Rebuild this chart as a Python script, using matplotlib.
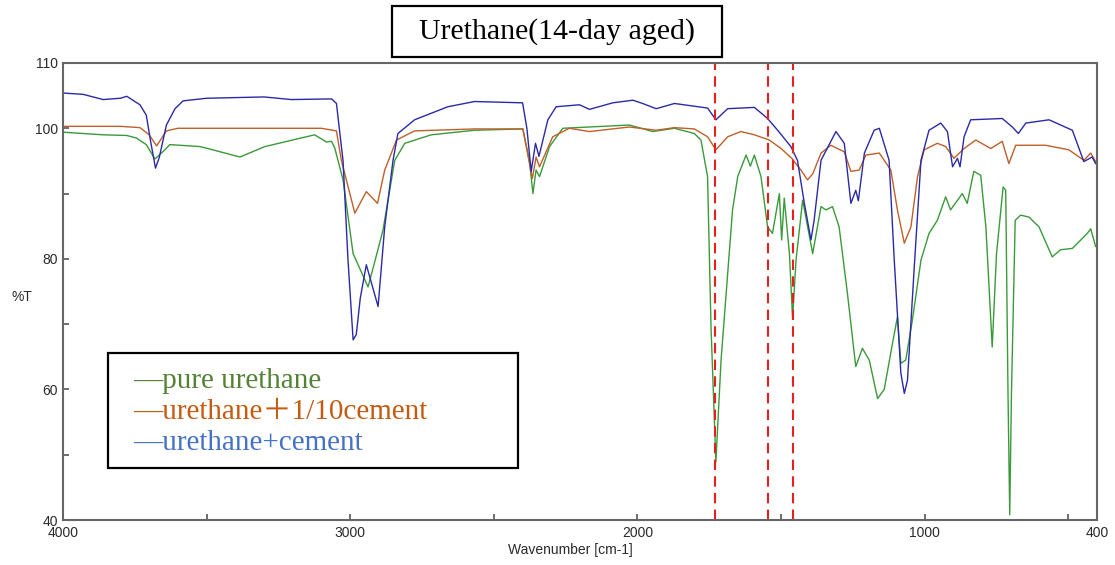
import matplotlib
matplotlib.use("Agg")
import matplotlib.pyplot as plt
from matplotlib.patches import Rectangle

# pure urethane (green)
wn_pure = [4000, 3860, 3778, 3744, 3710, 3680, 3650, 3628, 3523, 3470, 3384, 3297,
           3124, 3083, 3065, 3054, 3025, 2990, 2938, 2915, 2886, 2845, 2810, 2718, 2567,
           2399, 2376, 2364, 2353, 2341, 2306, 2260, 2028, 1947, 1871, 1802, 1779, 1756,
           1744, 1727, 1709, 1669, 1651, 1622, 1607, 1593, 1570, 1547, 1530, 1506, 1498,
           1489, 1471, 1460, 1448, 1425, 1390, 1361, 1344, 1321, 1298, 1269, 1240, 1217,
           1193, 1164, 1141, 1112, 1095, 1083, 1066, 1043, 1013, 985, 956, 927, 910, 869,
           852, 829, 805, 787, 765, 750, 727, 718, 710, 704, 698, 685, 666, 637, 602, 556,
           527, 486, 434, 422, 405]
t_pure = [99.4, 99.0, 98.9, 98.5, 97.5, 95.3, 96.5, 97.5, 97.2, 96.6, 95.6, 97.2,
          99.0, 97.9, 98.0, 97.0, 92.1, 80.8, 75.7, 79.5, 84.4, 95.1, 97.7, 99.0, 99.7,
          99.9, 95.0, 90.0, 93.6, 92.6, 97.2, 100.0, 100.5, 99.5, 100.0, 99.2, 98.2, 92.6,
          69.6, 48.9, 64.5, 87.5, 92.6, 95.9, 94.2, 95.9, 92.6, 84.9, 83.9, 90.0, 82.9,
          89.3, 80.8, 70.9, 79.8, 89.0, 80.8, 88.0, 87.5, 88.0, 84.9, 74.7, 63.5, 66.3,
          64.5, 58.6, 60.0, 67.1, 71.1, 64.0, 64.5, 70.6, 79.8, 83.9, 85.9, 89.5, 87.5, 90.0,
          88.5, 93.4, 92.8, 84.9, 66.5, 80.8, 91.0, 90.5, 59.4, 40.8, 59.4, 85.9, 86.7, 86.4,
          84.9, 80.3, 81.4, 81.6, 83.9, 84.6, 81.9]

# urethane + 1/10 cement (orange)
wn_tenth = [4000, 3800, 3732, 3700, 3674, 3640, 3600, 3300, 3100, 3048, 3031, 2984,
            2944, 2905, 2880, 2839, 2776, 2567, 2399, 2366, 2353, 2341, 2295, 2237, 2167,
            2028, 1935, 1871, 1802, 1756, 1727, 1686, 1640, 1593, 1541, 1500, 1463, 1431,
            1408, 1390, 1361, 1327, 1280, 1257, 1228, 1205, 1158, 1118, 1095, 1071, 1048,
            1025, 1002, 956, 927, 898, 863, 822, 770, 730, 707, 683, 579, 498, 446, 422, 405]
t_tenth = [100.3, 100.3, 100.1, 99.0, 97.3, 99.6, 100.0, 100.0, 100.0, 99.6, 95.1, 87.0,
           90.3, 88.5, 93.6, 98.2, 99.6, 99.9, 99.9, 92.3, 95.6, 94.1, 98.7, 100.0, 99.5,
           100.2, 99.7, 100.1, 99.9, 98.7, 96.7, 98.7, 99.5, 99.0, 98.2, 96.9, 95.4, 93.6,
           92.1, 93.0, 96.2, 97.4, 96.4, 93.4, 93.6, 95.9, 96.2, 93.6, 87.5, 82.4, 84.9,
           92.6, 96.7, 97.7, 97.2, 95.4, 96.9, 98.2, 96.9, 98.0, 94.6, 97.4, 97.4, 96.7,
           95.1, 96.2, 94.9]

# urethane + cement (blue)
wn_cement = [4000, 3930, 3860, 3800, 3778, 3732, 3710, 3695, 3678, 3665, 3640, 3610,
             3582, 3500, 3400, 3300, 3205, 3065, 3048, 3025, 3008, 2990, 2979, 2965, 2944,
             2903, 2880, 2851, 2834, 2776, 2660, 2567, 2400, 2385, 2370, 2355, 2343, 2312,
             2283, 2202, 2167, 2086, 2016, 1982, 1935, 1871, 1756, 1727, 1686, 1593, 1547,
             1512, 1466, 1443, 1419, 1396, 1385, 1361, 1309, 1280, 1257, 1240, 1231, 1210,
             1176, 1158, 1124, 1106, 1083, 1071, 1060, 1037, 1013, 985, 944, 921, 903, 886,
             877, 863, 840, 730, 695, 674, 648, 567, 486, 446, 417, 405]
t_cement = [105.4, 105.2, 104.4, 104.6, 104.9, 103.6, 102.0, 98.0, 93.9, 95.5, 100.5, 103.0,
            104.2, 104.6, 104.7, 104.8, 104.4, 104.5, 103.8, 95.0, 80.0, 67.6, 68.4, 74.0, 79.1,
            72.7, 84.9, 95.1, 99.2, 101.3, 103.3, 104.1, 103.9, 100.0, 93.4, 97.7, 95.7, 101.3,
            103.3, 103.6, 102.9, 103.9, 104.3, 103.8, 103.0, 103.8, 103.1, 101.3, 103.0, 103.2, 101.5,
            99.7, 97.2, 95.1, 88.5, 82.9, 85.9, 95.1, 99.5, 97.7, 88.5, 90.5, 88.9, 96.2,
            99.7, 100.0, 95.1, 79.8, 62.5, 59.4, 61.4, 78.3, 95.1, 99.7, 100.8, 99.5, 94.1, 95.4,
            94.1, 98.7, 101.3, 101.5, 100.2, 99.2, 100.8, 101.3, 99.7, 94.9, 95.6, 94.6]

marker_lines = [1730, 1545, 1460]

legend_labels = ["\u2014pure urethane", "\u2014urethane\uff0b1/10cement", "\u2014urethane+cement"]
legend_colors = ["#548235", "#C55A11", "#4472C4"]

fig = plt.figure(figsize=(11.15, 5.65), dpi=100)
ax = fig.add_axes([0.0565, 0.0796, 0.9274, 0.8089])

ax.plot(wn_pure, t_pure, color="#3a9a3a", lw=1.0)
ax.plot(wn_tenth, t_tenth, color="#bf5f2a", lw=1.0)
ax.plot(wn_cement, t_cement, color="#2a2aa8", lw=1.0)

for w in marker_lines:
    ax.axvline(w, color="#e8201c", lw=1.5, ls=(0, (5, 3)), clip_on=False)

ax.set_xlim(4000, 400)
ax.set_ylim(40, 110)
ax.set_xticks([4000, 3000, 2000, 1000, 400])
ax.set_xticks([3500, 2500, 1500, 500], minor=True)
ax.set_yticks([40, 50, 60, 70, 80, 90, 100, 110])
ax.set_yticklabels(["40", "", "60", "", "80", "", "100", "110"])
ax.tick_params(axis="both", which="both", direction="in", color="#555555",
               labelcolor="#2a2a2a", labelsize=10, length=4, width=1.2)
ax.tick_params(axis="x", pad=4.5)
for s in ax.spines.values():
    s.set_color("#666666")
    s.set_linewidth(1.5)
for lab in ax.get_xticklabels() + ax.get_yticklabels():
    lab.set_family("Liberation Sans")

fig.text(22 / 1115, 1 - 297 / 565, "%T", fontsize=10, color="#2a2a2a",
         family="Liberation Sans", ha="center", va="center")
fig.text(570 / 1115, 1 - 550 / 565, "Wavenumber [cm-1]", fontsize=10, color="#2a2a2a",
         family="Liberation Sans", ha="center", va="center")

# title box
fig.patches.append(Rectangle((392 / 1115, 1 - 57 / 565), 330 / 1115, 51 / 565,
                             transform=fig.transFigure, fill=False, ec="black", lw=1.6))
fig.text(557 / 1115, 1 - 32 / 565, "Urethane(14-day aged)", fontsize=21.5,
         family=["Liberation Serif", "Noto Sans CJK JP"], ha="center", va="center")

# legend box
ax.add_patch(Rectangle((0.0435, 0.1138), 0.3961, 0.2516, transform=ax.transAxes,
                       fill=False, ec="black", lw=1.6, zorder=5))
for i, (lab, col) in enumerate(zip(legend_labels, legend_colors)):
    ax.text(0.068, 0.305 - i * 0.068, lab, color=col, fontsize=21,
            family=["Liberation Serif", "Noto Sans CJK JP"], transform=ax.transAxes,
            ha="left", va="center", zorder=6)

fig.savefig("out.png", dpi=100)
